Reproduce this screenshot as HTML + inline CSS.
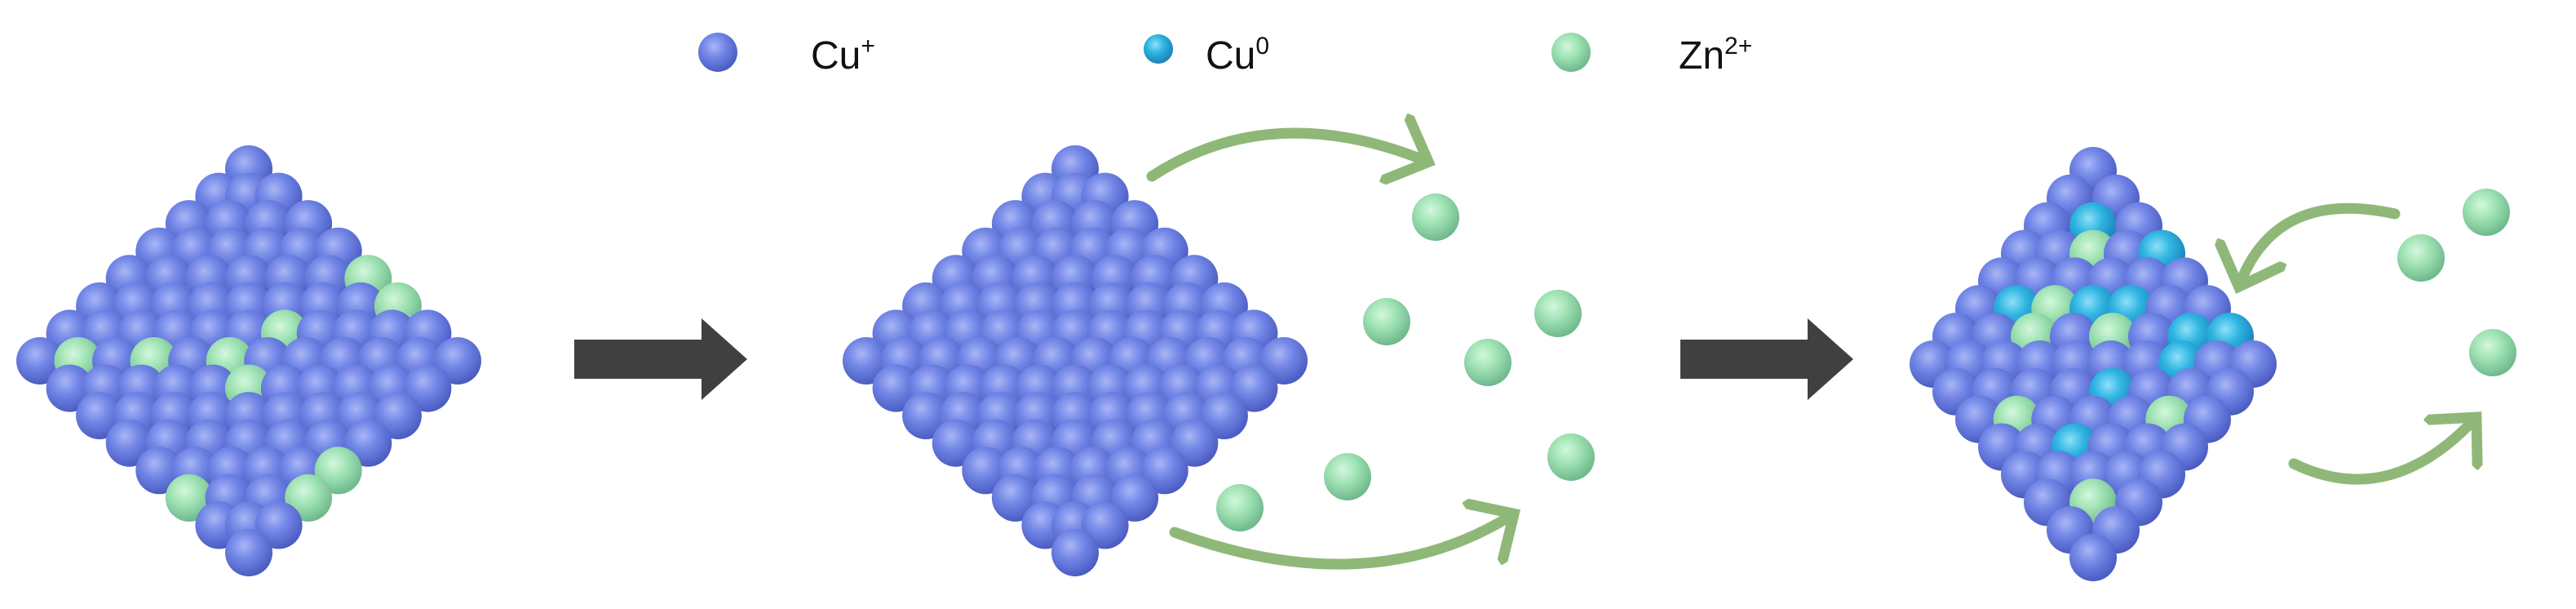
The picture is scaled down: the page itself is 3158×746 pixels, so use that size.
<!DOCTYPE html>
<html><head><meta charset="utf-8">
<style>
html,body{margin:0;padding:0;background:#fff;}
svg{display:block;}
text{font-family:"Liberation Sans",sans-serif;fill:#111;}
</style></head>
<body>
<svg id="s" width="3158" height="746" viewBox="0 0 3158 746" xmlns="http://www.w3.org/2000/svg">
<defs>
<radialGradient id="gb" cx="40%" cy="35%" r="65%">
<stop offset="0" stop-color="#a9b6f6"/><stop offset="0.45" stop-color="#7186e6"/><stop offset="1" stop-color="#4b5cc2"/></radialGradient>
<radialGradient id="gg" cx="40%" cy="35%" r="65%">
<stop offset="0" stop-color="#d4f7dd"/><stop offset="0.45" stop-color="#a0e3b4"/><stop offset="1" stop-color="#6fb98d"/></radialGradient>
<radialGradient id="gc" cx="40%" cy="35%" r="65%">
<stop offset="0" stop-color="#8fe0f7"/><stop offset="0.45" stop-color="#2fb5e2"/><stop offset="1" stop-color="#1a82b8"/></radialGradient>
<marker id="ah" markerWidth="7" markerHeight="7" refX="3.5" refY="3.5" orient="auto" markerUnits="strokeWidth"><path d="M0.4,0.4 L3.6,3.5 L0.4,6.6" fill="none" stroke="#8fb878" stroke-width="1" stroke-linecap="round"/></marker>
</defs>
<g id="oct"></g>
<!-- legend -->
<circle cx="880" cy="64" r="24" fill="url(#gb)"/>
<text x="994" y="84" font-size="48">Cu<tspan font-size="30" dy="-18">+</tspan></text>
<circle cx="1420" cy="60" r="18" fill="url(#gc)"/>
<text x="1478" y="84" font-size="48">Cu<tspan font-size="30" dy="-18">0</tspan></text>
<circle cx="1926" cy="64" r="24" fill="url(#gg)"/>
<text x="2058" y="84" font-size="48">Zn<tspan font-size="30" dy="-18">2+</tspan></text>
<!-- dark arrows -->
<polygon points="704,416 860,416 860,390 916,440 860,490 860,464 704,464" fill="#404040"/>
<polygon points="2060,416 2216,416 2216,390 2272,440 2216,490 2216,464 2060,464" fill="#404040"/>
<!-- free Zn -->
<g fill="url(#gg)">
<circle cx="1760" cy="266" r="29"/><circle cx="1700" cy="394" r="29"/><circle cx="1910" cy="384" r="29"/>
<circle cx="1824" cy="444" r="29"/><circle cx="1926" cy="560" r="29"/><circle cx="1652" cy="584" r="29"/>
<circle cx="1520" cy="622" r="29"/>
<circle cx="2968" cy="316" r="29"/><circle cx="3048" cy="260" r="29"/><circle cx="3056" cy="432" r="29"/>
</g>
<!-- green arrows -->
<g fill="none" stroke="#8fb878" stroke-width="13" stroke-linecap="round">
<path d="M1412,216 Q1560,120 1750,198" marker-end="url(#ah)"/>
<path d="M1440,652 Q1680,740 1855,630" marker-end="url(#ah)"/>
<path d="M2936,262 Q2790,230 2745,350" marker-end="url(#ah)"/>
<path d="M2812,568 Q2930,625 3035,512" marker-end="url(#ah)"/>
</g>
</svg>
<script>
(function(){
var g=document.getElementById('oct');var NS='http://www.w3.org/2000/svg';
function rnd(seed){var x=Math.sin(seed)*10000;return x-Math.floor(x);}
function oct(cx,top,bot,W,mode,seed){
 var r=29,dx=46,top0=top+r,bot0=bot-r,cy=(top0+bot0)/2,H=(bot0-top0)/2;
 var rows=Math.round((bot0-top0)/34),dy=(bot0-top0)/rows,k=0;
 for(var i=0;i<=rows;i++){
  var y=top0+i*dy;
  var w=(W-r)*(1-Math.abs(y-cy)/H);
  var n=Math.floor(2*w/dx+0.5);
  var sp=n>0?2*w/n:0;
  for(var j=0;j<=n;j++){
   var x=cx-w+j*sp;
   k++;var v=rnd(k*7.13+seed);var f='url(#gb)';
   if(mode==1&&v<0.07)f='url(#gg)';
   if(mode==3){if(v<0.18)f='url(#gg)';else if(v<0.32)f='url(#gc)';}
   var c=document.createElementNS(NS,'circle');
   c.setAttribute('cx',x.toFixed(1));c.setAttribute('cy',y.toFixed(1));c.setAttribute('r',r);c.setAttribute('fill',f);
   g.appendChild(c);
  }
 }
}
oct(305,178,706,285,1,1);
oct(1318,178,706,285,2,2);
oct(2566,180,712,225,3,3);
})();
</script>
</body></html>
